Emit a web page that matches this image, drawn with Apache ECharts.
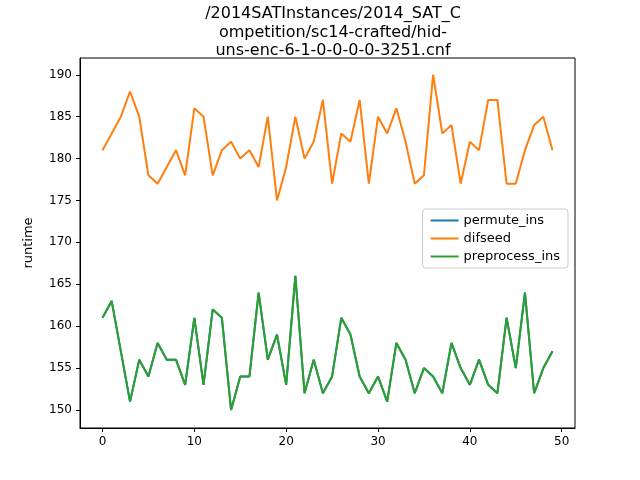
<!DOCTYPE html>
<html>
<head>
<meta charset="utf-8">
<script src="https://cdn.jsdelivr.net/npm/echarts@6/dist/echarts.min.js"></script>
<style>html,body{margin:0;padding:0;background:#fff}#c{width:640px;height:480px}</style>
</head>
<body>
<div id="c"></div>
<script>
var xs = [];
for (var i = 0; i < 50; i++) xs.push(i);
var difseed = [181,183,185,188,185,178,177,179,181,178,186,185,178,181,182,180,181,179,185,175,179,185,180,182,187,177,183,182,187,177,185,183,186,182,177,178,190,183,184,177,182,181,187,187,177,177,181,184,185,181];
var preprocess = [161,163,157,151,156,154,158,156,156,153,161,153,162,161,150,154,154,164,156,159,153,166,152,156,152,154,161,159,154,152,154,151,158,156,152,155,154,152,158,155,153,156,153,152,161,155,164,152,155,157];
var permute = preprocess.slice();
var xTicks = [0, 10, 20, 30, 40, 50];
var yTicks = [150, 155, 160, 165, 170, 175, 180, 185, 190];

function pairs(arr) {
    return arr.map(function (v, i) { return [xs[i], v]; });
}
var font = 'DejaVu Sans';
var chart = echarts.init(document.getElementById('c'));
chart.setOption({
    animation: false,
    textStyle: {fontFamily: font},
    title: {
        text: '/2014SATInstances/2014_SAT_C\nompetition/sc14-crafted/hid-\nuns-enc-6-1-0-0-0-0-3251.cnf',
        left: 328, top: 0, textAlign: 'center',
        textStyle: {fontSize: 16, fontWeight: 'normal', color: '#000', lineHeight: 18.5, fontFamily: font}
    },
    legend: {
        orient: 'vertical', right: 72, top: 209,
        backgroundColor: '#fff', borderColor: '#ccc', borderWidth: 1, borderRadius: 3,
        padding: [5, 8, 5, 8], itemGap: 5, itemWidth: 28, itemHeight: 2,
        textStyle: {fontSize: 13, color: '#000', fontFamily: font},
        icon: 'rect',
        data: ['permute_ins', 'difseed', 'preprocess_ins']
    },
    grid: {left: 80, right: 65, top: 58, bottom: 52, containLabel: false},
    xAxis: {
        type: 'value', min: -2.45, max: 51.45,
        axisLine: {onZero: false, lineStyle: {color: '#000'}},
        axisTick: {show: true, customValues: xTicks, length: 4, lineStyle: {color: '#000'}},
        axisLabel: {customValues: xTicks, color: '#000', fontSize: 12, margin: 8},
        splitLine: {show: false}
    },
    yAxis: {
        type: 'value', min: 147.85, max: 192,
        name: 'runtime', nameLocation: 'middle', nameGap: 45,
        nameTextStyle: {color: '#000', fontSize: 13},
        axisLine: {show: true, onZero: false, lineStyle: {color: '#000'}},
        axisTick: {show: true, customValues: yTicks, length: 4, lineStyle: {color: '#000'}},
        axisLabel: {customValues: yTicks, color: '#000', fontSize: 12, margin: 8},
        splitLine: {show: false}
    },
    series: [
        {name: 'permute_ins', type: 'line', data: pairs(permute), showSymbol: false, lineStyle: {width: 2, color: '#1f77b4'}, itemStyle: {color: '#1f77b4'}},
        {name: 'difseed', type: 'line', data: pairs(difseed), showSymbol: false, lineStyle: {width: 2, color: '#ff7f0e'}, itemStyle: {color: '#ff7f0e'}},
        {name: 'preprocess_ins', type: 'line', data: pairs(preprocess), showSymbol: false, lineStyle: {width: 2, color: '#2ca02c'}, itemStyle: {color: '#2ca02c'}}
    ]
});
// top and right frame lines
chart.setOption({
    graphic: [{type: 'rect', shape: {x: 80, y: 58, width: 495, height: 370}, style: {fill: 'none', stroke: '#000', lineWidth: 1}, silent: true}]
});
</script>
</body>
</html>
